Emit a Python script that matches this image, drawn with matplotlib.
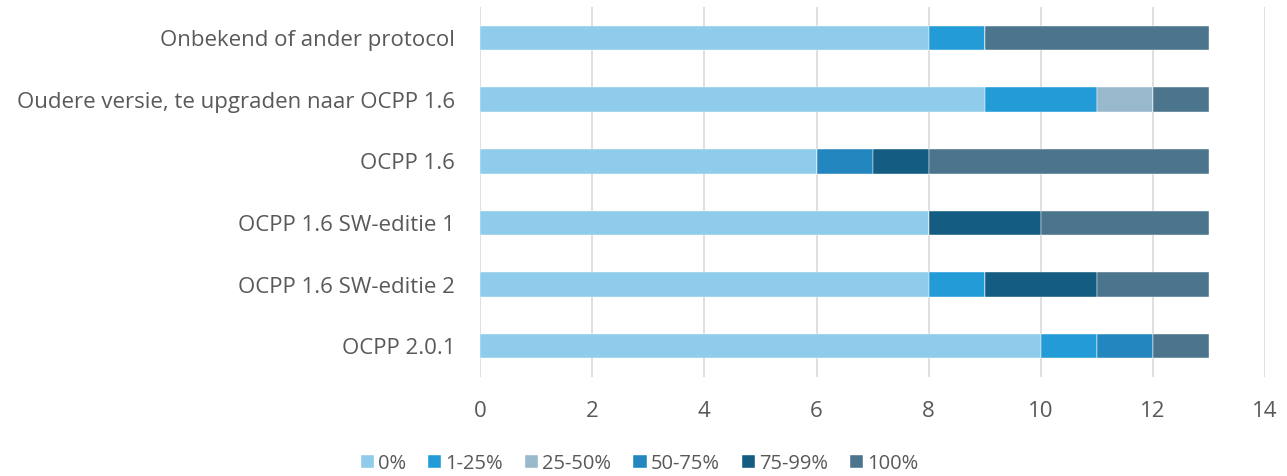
import matplotlib
matplotlib.use("Agg")
import matplotlib.pyplot as plt
import numpy as np

plt.rcParams['font.family'] = ['Open Sans', 'DejaVu Sans']

# data
categories = [
    "Onbekend of ander protocol",
    "Oudere versie, te upgraden naar OCPP 1.6",
    "OCPP 1.6",
    "OCPP 1.6 SW-editie 1",
    "OCPP 1.6 SW-editie 2",
    "OCPP 2.0.1",
]
series_names = ["0%", "1-25%", "25-50%", "50-75%", "75-99%", "100%"]
v_0 = [8, 9, 6, 8, 8, 10]
v_1_25 = [1, 2, 0, 0, 1, 1]
v_25_50 = [0, 1, 0, 0, 0, 0]
v_50_75 = [0, 0, 1, 0, 0, 1]
v_75_99 = [0, 0, 1, 2, 2, 0]
v_100 = [4, 1, 5, 3, 2, 1]
colors = ["#8FCBEA", "#229BD7", "#98B9CC", "#2386BF", "#145C82", "#4A758C"]

values = [v_0, v_1_25, v_25_50, v_50_75, v_75_99, v_100]
text_col = "#595959"

fig = plt.figure(figsize=(12.87, 4.76), dpi=100)
ax = fig.add_axes([0.373, 0.208, 0.610, 0.777])

y = np.arange(len(categories))
left = np.zeros(len(categories))
for name, vals, c in zip(series_names, values, colors):
    vals = np.array(vals, dtype=float)
    ax.barh(y, vals, left=left, height=0.4, color=c, label=name,
            edgecolor="white", linewidth=0.3, zorder=3)
    left += vals

ax.set_ylim(len(categories) - 0.5, -0.5)
ax.set_xlim(0, 14)
ax.set_xticks(range(0, 15, 2))
ax.set_yticks(y)
ax.set_yticklabels(categories)
ax.tick_params(axis='both', length=0, labelsize=16, colors=text_col)
ax.tick_params(axis='x', pad=17)
ax.tick_params(axis='y', pad=18)
for s in ax.spines.values():
    s.set_visible(False)
ax.grid(axis='x', color="#D9D9D9", linewidth=1.2, zorder=0)
ax.set_axisbelow(True)

handles, labels = ax.get_legend_handles_labels()
fig.legend(handles, labels, loc='center', bbox_to_anchor=(0.497, 0.026), ncol=6,
           frameon=False, fontsize=14.5, handlelength=0.65, handleheight=0.65,
           handletextpad=0.2, columnspacing=1.1, labelcolor=text_col)

plt.savefig("out.png", dpi=100)
